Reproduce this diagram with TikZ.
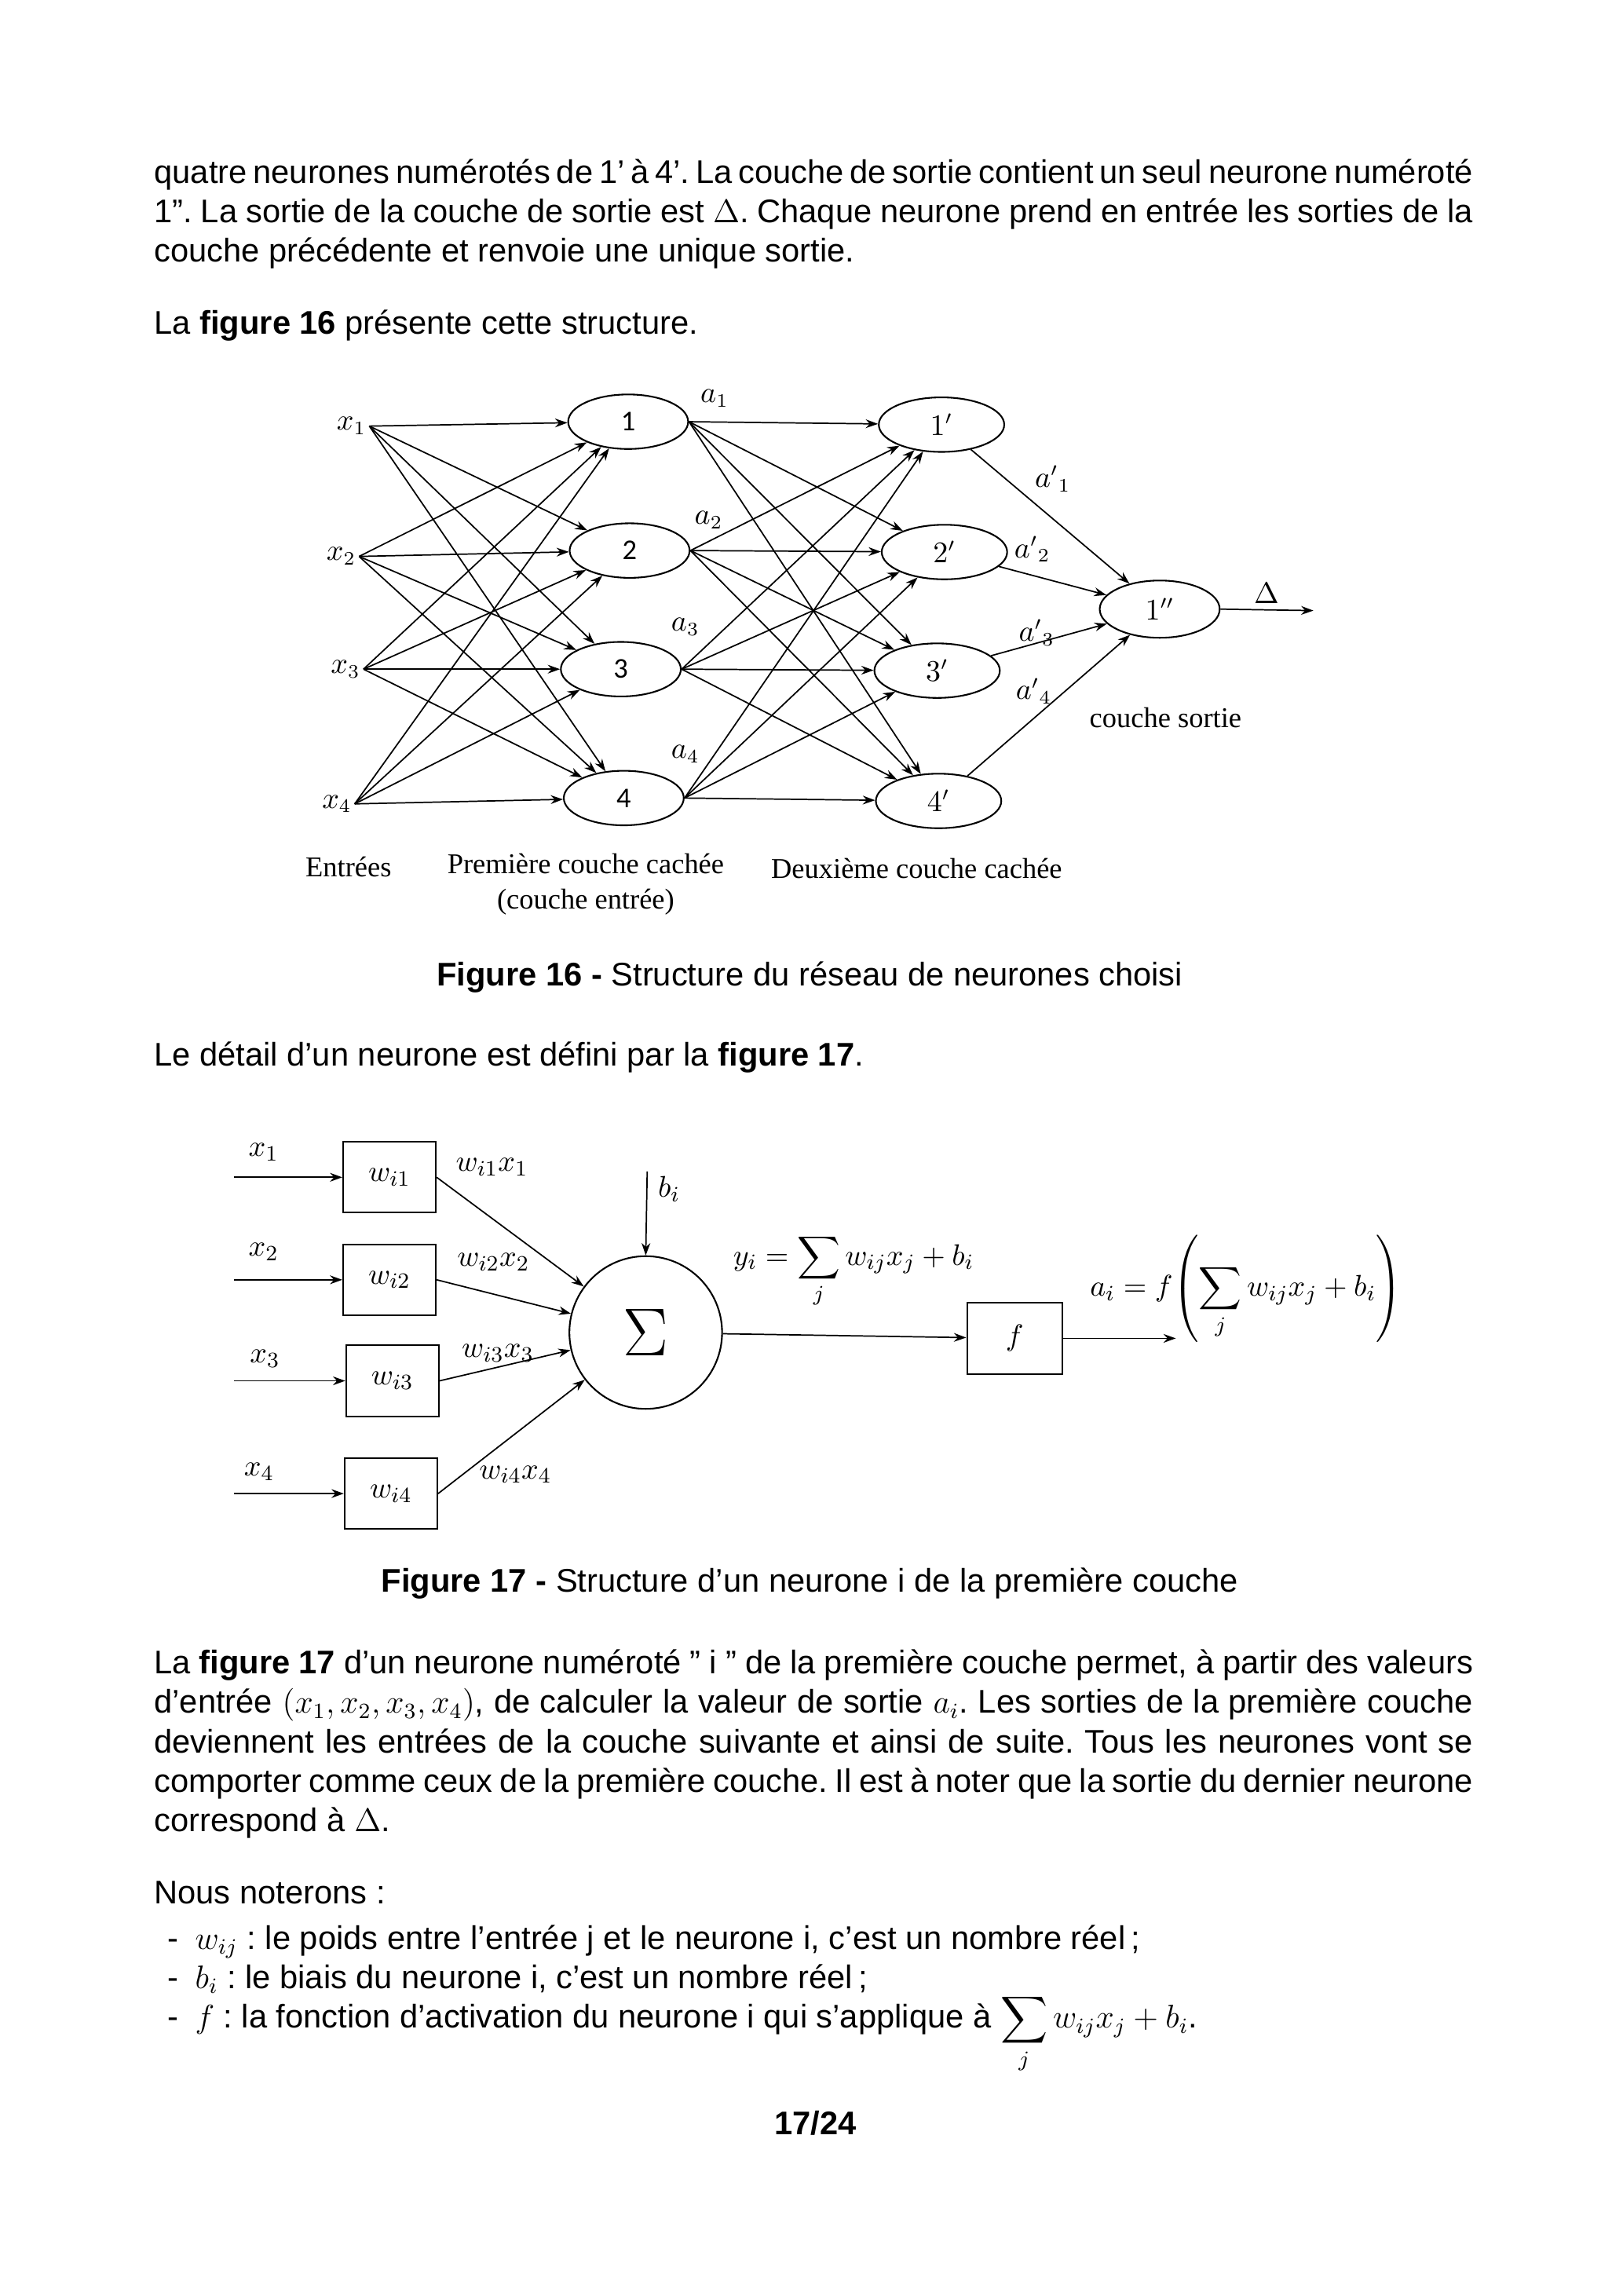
\documentclass[tikz,border=0pt]{standalone}
\usepackage{amsmath}
\usepackage{fontspec}
\setmainfont{Liberation Sans}
\newfontfamily\figfont{Liberation Serif}
\newfontfamily\numfont{Carlito}
\usepackage{tikz}
\usetikzlibrary{shapes.geometric, arrows.meta, positioning}
\frenchspacing
\newcommand{\serre}{\spaceskip=3.336pt plus 4pt minus 1.6pt\relax}

\begin{document}
\begin{tikzpicture}[
  x=0.537pt, y=-0.537pt,
  txt/.style={anchor=base west, inner sep=0pt, text width=17cm, align=justify, font=\fontsize{12}{14.5}\selectfont},
  line/.style={anchor=base, inner sep=0pt, font=\fontsize{12}{14.5}\selectfont},
  neuron/.style={draw, ellipse, line width=0.6pt, minimum width=44pt, minimum height=20pt, inner sep=0pt, font=\numfont\fontsize{10.5}{12}\selectfont},
  lbl/.style={inner sep=1pt, font=\fontsize{10.5}{12}\selectfont},
  legend/.style={inner sep=0pt, align=center, font=\figfont\fontsize{10.5}{13}\selectfont},
  wbox/.style={draw, line width=0.6pt, minimum width=34pt, minimum height=26pt, inner sep=0pt, font=\fontsize{11}{13}\selectfont},
  arr/.style={-{Stealth[length=4.5pt, width=3.2pt]}, line width=0.5pt}
]
\fill[white] (0,0) rectangle (1108,1568);
\useasboundingbox (0,0) rectangle (1108,1568);

% texte du haut
\node[txt] (par1) at (105,125) {\serre quatre neurones numérotés de 1’ à 4’. La couche de sortie contient un seul neurone numéroté\linebreak 1”. La sortie de la couche de sortie est $\Delta$. Chaque neurone prend en entrée les sorties de la\linebreak couche précédente et renvoie une unique sortie.};
\node[line, anchor=base west] (intro16) at (105,228) {La \textbf{figure 16} présente cette structure.};

% figure 16 : entrées
\node[lbl] (x1) at (240,291) {$x_1$};
\node[lbl] (x2) at (233,380) {$x_2$};
\node[lbl] (x3) at (236,457) {$x_3$};
\node[lbl] (x4) at (230,549) {$x_4$};

% première couche cachée
\node[neuron] (n1) at (429,288) {1};
\node[neuron] (n2) at (430,376) {2};
\node[neuron] (n3) at (424,457) {3};
\node[neuron] (n4) at (426,545) {4};

% deuxième couche cachée
\node[neuron, minimum width=46pt, font=\fontsize{10.5}{12}\selectfont] (m1) at (643,290) {$1'$};
\node[neuron, minimum width=46pt, font=\fontsize{10.5}{12}\selectfont] (m2) at (645,377) {$2'$};
\node[neuron, minimum width=46pt, font=\fontsize{10.5}{12}\selectfont] (m3) at (640,458) {$3'$};
\node[neuron, minimum width=46pt, font=\fontsize{10.5}{12}\selectfont] (m4) at (641,547) {$4'$};

% couche de sortie
\node[neuron, minimum height=21pt, font=\fontsize{10.5}{12}\selectfont] (o) at (792,416) {$1''$};
\coordinate (delta) at (897,417);

\draw[arr] (x1.east) -- (n1);
\draw[arr] (x1.east) -- (n2);
\draw[arr] (x1.east) -- (n3);
\draw[arr] (x1.east) -- (n4);
\draw[arr] (x2.east) -- (n1);
\draw[arr] (x2.east) -- (n2);
\draw[arr] (x2.east) -- (n3);
\draw[arr] (x2.east) -- (n4);
\draw[arr] (x3.east) -- (n1);
\draw[arr] (x3.east) -- (n2);
\draw[arr] (x3.east) -- (n3);
\draw[arr] (x3.east) -- (n4);
\draw[arr] (x4.east) -- (n1);
\draw[arr] (x4.east) -- (n2);
\draw[arr] (x4.east) -- (n3);
\draw[arr] (x4.east) -- (n4);

\draw[arr] (n1.east) -- (m1);
\draw[arr] (n1.east) -- (m2);
\draw[arr] (n1.east) -- (m3);
\draw[arr] (n1.east) -- (m4);
\draw[arr] (n2.east) -- (m1);
\draw[arr] (n2.east) -- (m2);
\draw[arr] (n2.east) -- (m3);
\draw[arr] (n2.east) -- (m4);
\draw[arr] (n3.east) -- (m1);
\draw[arr] (n3.east) -- (m2);
\draw[arr] (n3.east) -- (m3);
\draw[arr] (n3.east) -- (m4);
\draw[arr] (n4.east) -- (m1);
\draw[arr] (n4.east) -- (m2);
\draw[arr] (n4.east) -- (m3);
\draw[arr] (n4.east) -- (m4);

\draw[arr] (m1) -- (o);
\draw[arr] (m2) -- (o);
\draw[arr] (m3) -- (o);
\draw[arr] (m4) -- (o);
\draw[arr] (o.east) -- (delta);

\node[lbl] (a1) at (488,272) {$a_1$};
\node[lbl] (a2) at (484,355) {$a_2$};
\node[lbl] (a3) at (468,428) {$a_3$};
\node[lbl] (a4) at (468,515) {$a_4$};
\node[lbl] (ap1) at (719,327) {${a'}_1$};
\node[lbl] (ap2) at (705,375) {${a'}_2$};
\node[lbl] (ap3) at (708,432) {${a'}_3$};
\node[lbl] (ap4) at (706,472) {${a'}_4$};
\node[lbl] (dlt) at (865,405) {$\Delta$};

\node[legend] (lsortie) at (796,490) {couche sortie};
\node[legend] (lentrees) at (238,592) {Entrées};
\node[legend] (lc1) at (400,604) {Première couche cachée\\(couche entrée)};
\node[legend] (lc2) at (626,593) {Deuxième couche cachée};

\node[line] (cap16) at (553,673) {\textbf{Figure 16 -} Structure du réseau de neurones choisi};
\node[line, anchor=base west] (intro17) at (105,728) {Le détail d’un neurone est défini par la \textbf{figure 17}.};

% figure 17 : un neurone
\coordinate (e1) at (160,804);
\coordinate (e2) at (160,874);
\coordinate (e3) at (160,943);
\coordinate (e4) at (160,1020);
\node[wbox] (w1) at (266,804) {$w_{i1}$};
\node[wbox] (w2) at (266,874) {$w_{i2}$};
\node[wbox] (w3) at (268,943) {$w_{i3}$};
\node[wbox] (w4) at (267,1020) {$w_{i4}$};
\node[draw, circle, line width=0.6pt, minimum size=56pt, inner sep=0pt] (sig) at (441,910) {\fontsize{28}{30}\selectfont$\Sigma$};
\node[wbox, minimum width=35pt] (fbox) at (693,914) {$f$};
\coordinate (bias) at (442,800);
\coordinate (aout) at (803,914);

\draw[arr] (e1) -- (w1);
\draw[arr] (e2) -- (w2);
\draw[arr] (e3) -- (w3);
\draw[arr] (e4) -- (w4);
\draw[arr] (w1.east) -- (sig);
\draw[arr] (w2.east) -- (sig);
\draw[arr] (w3.east) -- (sig);
\draw[arr] (w4.east) -- (sig);
\draw[arr] (bias) -- (sig.north);
\draw[arr] (sig) -- (fbox);
\draw[arr] (fbox) -- (aout);

\node[lbl, font=\fontsize{11}{13}\selectfont] (lx1) at (180,787) {$x_1$};
\node[lbl, font=\fontsize{11}{13}\selectfont] (lx2) at (180,855) {$x_2$};
\node[lbl, font=\fontsize{11}{13}\selectfont] (lx3) at (181,928) {$x_3$};
\node[lbl, font=\fontsize{11}{13}\selectfont] (lx4) at (177,1005) {$x_4$};
\node[lbl, font=\fontsize{11}{13}\selectfont] (wx1) at (336,797) {$w_{i1}x_1$};
\node[lbl, font=\fontsize{11}{13}\selectfont] (wx2) at (337,862) {$w_{i2}x_2$};
\node[lbl, font=\fontsize{11}{13}\selectfont] (wx3) at (340,924) {$w_{i3}x_3$};
\node[lbl, font=\fontsize{11}{13}\selectfont] (wx4) at (352,1007) {$w_{i4}x_4$};
\node[lbl, font=\fontsize{11}{13}\selectfont] (lb) at (457,812) {$b_i$};
\node[lbl, font=\fontsize{11}{13}\selectfont] (ly) at (583,868) {$y_i = \displaystyle\sum_j w_{ij}x_j + b_i$};
\node[lbl, font=\fontsize{11}{13}\selectfont] (la) at (851,880) {$a_i = f\!\left(\displaystyle\sum_j w_{ij}x_j + b_i\right)$};

\node[line] (cap17) at (553,1087) {\textbf{Figure 17 -} Structure d’un neurone i de la première couche};

% texte du bas
\node[txt] (par2) at (105,1143) {\serre La \textbf{figure 17} d’un neurone numéroté ” i ” de la première couche permet, à partir des valeurs\linebreak d’entrée $(x_1, x_2, x_3, x_4)$, de calculer la valeur de sortie $a_i$. Les sorties de la première couche\linebreak deviennent les entrées de la couche suivante et ainsi de suite. Tous les neurones vont se\linebreak comporter comme ceux de la première couche. Il est à noter que la sortie du dernier neurone\linebreak correspond à $\Delta$.};
\node[line, anchor=base west] (nous) at (105,1300) {Nous noterons :};
\node[line, anchor=base west] (d1) at (114,1331) {-};
\node[line, anchor=base west] (d2) at (114,1358) {-};
\node[line, anchor=base west] (d3) at (114,1385) {-};
\node[line, anchor=base west] (item1) at (133,1331) {$w_{ij}$ : le poids entre l’entrée j et le neurone i, c’est un nombre réel\,;};
\node[line, anchor=base west] (item2) at (133,1358) {$b_i$ : le biais du neurone i, c’est un nombre réel\,;};
\node[line, anchor=base west] (item3) at (133,1385) {$f$ : la fonction d’activation du neurone i qui s’applique à $\displaystyle\sum_j w_{ij}x_j + b_i$.};
\node[line] (page) at (557,1458) {\textbf{17/24}};
\end{tikzpicture}
\end{document}
